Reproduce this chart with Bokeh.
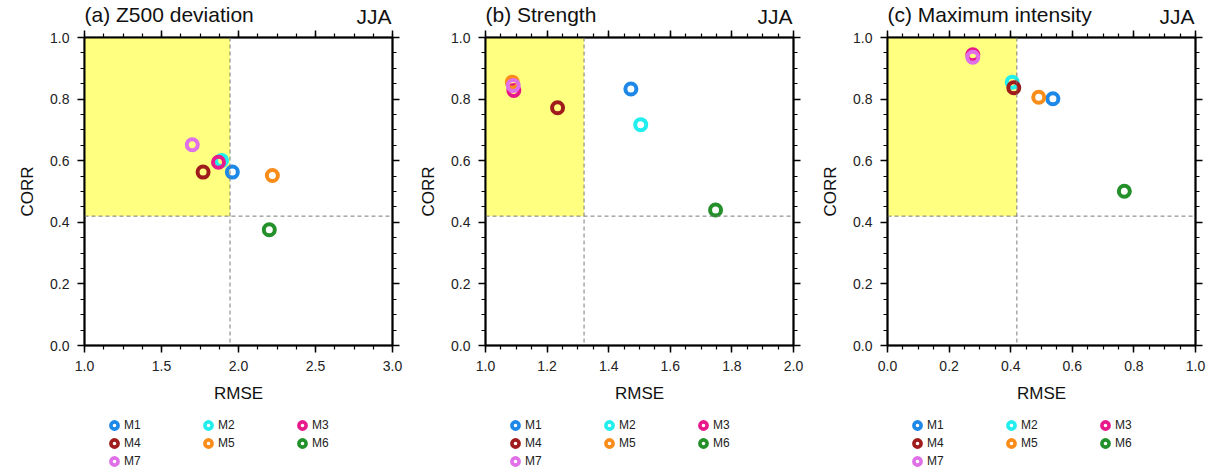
from bokeh.plotting import figure
from bokeh.layouts import row, column
from bokeh.models import (LinearAxis, SingleIntervalTicker, PrintfTickFormatter,
                          CustomJSTickFormatter, Span, Legend, LegendItem, Range1d)
from bokeh.core.properties import value
from bokeh.embed import file_html
from bokeh.resources import INLINE

# ---------------- data ----------------
models = ["M1", "M2", "M3", "M4", "M5", "M6", "M7"]
colors = ["#1E88E8", "#22EEEE", "#E8198A", "#A01C1C", "#FA8C1A", "#23902A", "#E070E8"]

titles = ["(a) Z500 deviation", "(b) Strength", "(c) Maximum intensity"]
season = "JJA"

z500_rmse = [1.96, 1.89, 1.87, 1.77, 2.22, 2.20, 1.70]
z500_corr = [0.563, 0.601, 0.595, 0.563, 0.552, 0.376, 0.652]

strength_rmse = [1.472, 1.504, 1.092, 1.234, 1.087, 1.747, 1.090]
strength_corr = [0.833, 0.717, 0.828, 0.772, 0.855, 0.440, 0.844]

maxint_rmse = [0.537, 0.405, 0.277, 0.410, 0.491, 0.769, 0.277]
maxint_corr = [0.801, 0.855, 0.944, 0.837, 0.806, 0.501, 0.936]

rmse_sets = [z500_rmse, strength_rmse, maxint_rmse]
corr_sets = [z500_corr, strength_corr, maxint_corr]

x_ranges = [(1.0, 3.0), (1.0, 2.0), (0.0, 1.0)]
x_major = [0.5, 0.2, 0.2]
rmse_thresh = [1.945, 1.32, 0.42]
corr_thresh = [0.42, 0.42, 0.42]

FONT = "Liberation Sans"
FRAME = 308
TITLE_H = 29
PANEL_H = 380
LEGEND_H = 472 - TITLE_H - PANEL_H


def style_axis(ax, labelled):
    ax.axis_line_width = 2
    ax.axis_line_color = "black"
    ax.major_tick_line_width = 1.5
    ax.minor_tick_line_width = 1.2
    ax.major_tick_in = 0
    ax.major_tick_out = 7
    ax.minor_tick_in = 0
    ax.minor_tick_out = 4
    ax.major_label_text_font = FONT
    ax.major_label_text_color = "#222222"
    ax.axis_label_text_font = FONT
    ax.axis_label_text_font_size = "17px"
    ax.axis_label_text_font_style = "normal"
    ax.axis_label_text_color = "#111111"
    if labelled:
        ax.major_label_text_font_size = "14px"
        ax.major_label_standoff = 8
        ax.axis_label_standoff = 10
        ax.formatter = PrintfTickFormatter(format="%.1f")
    else:
        ax.major_label_text_font_size = "0px"
        ax.major_label_standoff = 0
        ax.formatter = CustomJSTickFormatter(code="return ''")


def bare_figure(width, height, xr, yr, left, right):
    f = figure(width=width, height=height, x_range=xr, y_range=yr, title=None,
               output_backend="svg", toolbar_location=None,
               x_axis_location=None, y_axis_location=None,
               min_border_left=left, min_border_right=right,
               min_border_top=0, min_border_bottom=0)
    f.xgrid.visible = False
    f.ygrid.visible = False
    f.outline_line_color = None
    f.background_fill_color = "white"
    f.border_fill_color = "white"
    return f


def make_title(i, xr, width, left, right):
    x0, x1 = x_ranges[i]
    t = bare_figure(width, TITLE_H, xr, Range1d(0, TITLE_H), left, right)
    t.text(x=[x0], y=[15.5], text=[titles[i]], text_font=value(FONT),
           text_font_size=value("21px"), text_align="left", text_baseline="alphabetic",
           text_color="#111111")
    t.text(x=[x1], y=[13], x_offset=-1, text=[season], text_font=value(FONT),
           text_font_size=value("21px"), text_align="right", text_baseline="alphabetic",
           text_color="#111111")
    return t


def make_legend(i, xr, width, left, right):
    f = bare_figure(width, LEGEND_H, xr, Range1d(0, 1), left, right)
    items = []
    for k, m in enumerate(models):
        r = f.scatter(x=[rmse_sets[i][k]], y=[corr_sets[i][k]], marker="circle", size=11,
                      line_width=3.6, line_color=colors[k], fill_alpha=0, visible=False)
        items.append(LegendItem(label=m, renderers=[r]))
    legend = Legend(items=items, location=(21, 2), orientation="horizontal", ncols=3,
                    background_fill_alpha=0, border_line_color=None, padding=0, margin=0,
                    spacing=0, glyph_width=18, glyph_height=18, label_height=18,
                    label_width=75, label_standoff=1, label_text_font=FONT,
                    label_text_font_size="12px", label_text_color="#222222")
    f.add_layout(legend)
    return f


def make_panel(i, xr, width, left, right):
    x0, x1 = x_ranges[i]
    p = figure(width=width, height=PANEL_H, x_range=xr, y_range=Range1d(0, 1), title=None,
               output_backend="svg", toolbar_location=None,
               min_border_left=left, min_border_right=right,
               min_border_top=37 - TITLE_H, min_border_bottom=PANEL_H - FRAME - (37 - TITLE_H),
               x_axis_label="RMSE", y_axis_label="CORR")
    p.xgrid.visible = False
    p.ygrid.visible = False
    p.outline_line_color = "black"
    p.outline_line_width = 1.5
    p.background_fill_color = "white"
    p.border_fill_color = "white"

    top_ax = LinearAxis()
    right_ax = LinearAxis()
    p.add_layout(top_ax, "above")
    p.add_layout(right_ax, "right")

    xt = SingleIntervalTicker(interval=x_major[i], num_minor_ticks=4)
    yt = SingleIntervalTicker(interval=0.2, num_minor_ticks=4)
    for ax in [p.below[0], top_ax]:
        ax.ticker = xt
    for ax in [p.left[0], right_ax]:
        ax.ticker = yt
    style_axis(p.below[0], True)
    style_axis(p.left[0], True)
    style_axis(top_ax, False)
    style_axis(right_ax, False)

    # yellow "good" region
    p.quad(left=[x0], right=[rmse_thresh[i]], bottom=[corr_thresh[i]], top=[1.0],
           fill_color="#FFFF80", line_color=None)
    p.add_layout(Span(location=rmse_thresh[i], dimension="height", line_color="#7a7a7a",
                      line_dash="4 3", line_width=1))
    p.add_layout(Span(location=corr_thresh[i], dimension="width", line_color="#7a7a7a",
                      line_dash="4 3", line_width=1))

    for k, m in enumerate(models):
        p.scatter(x=[rmse_sets[i][k]], y=[corr_sets[i][k]], marker="circle", size=11,
                  line_width=4, line_color=colors[k], fill_alpha=0)
    return p


specs = [(404, 84, 12), (402, 81, 13), (416, 81, 27)]
cols = []
for i, (w, l, r) in enumerate(specs):
    xr = Range1d(*x_ranges[i])
    cols.append(column(make_title(i, xr, w, l, r), make_panel(i, xr, w, l, r),
                       make_legend(i, xr, w, l, r), spacing=0))

layout = row(*cols, spacing=0)
open("out.html", "w").write(file_html(layout, INLINE))
